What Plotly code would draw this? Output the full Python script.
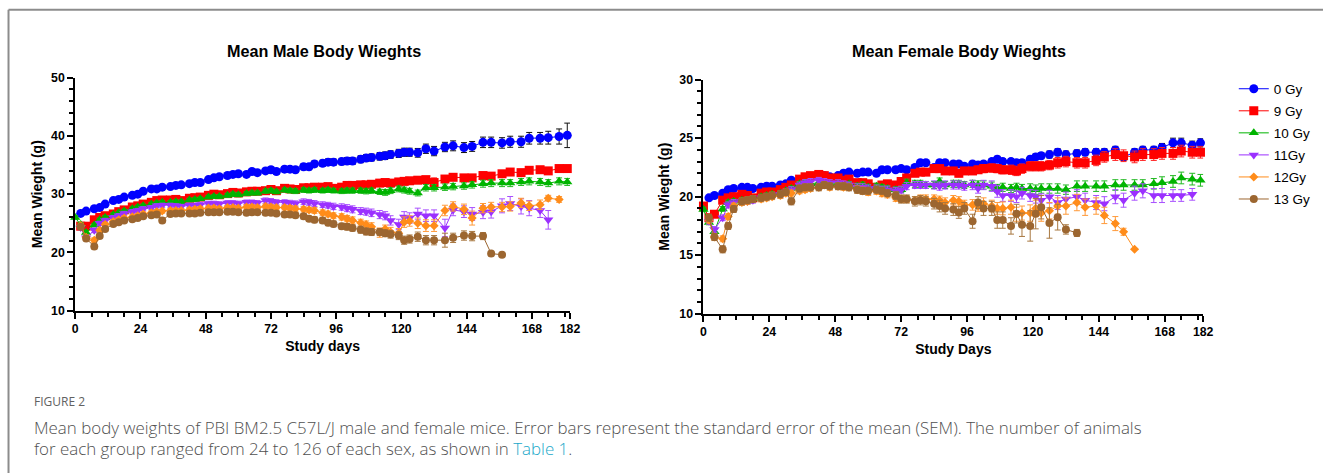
import plotly.graph_objects as go

# ---------------- data ----------------
DAYS = [0, 2, 4, 7, 9, 11, 14, 16, 18, 21,
        23, 25, 28, 30, 32, 35, 37, 39, 42, 44,
        46, 49, 51, 53, 56, 58, 60, 63, 65, 67,
        70, 72, 74, 77, 79, 81, 84, 86, 88, 91,
        93, 95, 98, 100, 102, 105, 107, 109, 112, 114,
        116, 119, 121, 123, 126, 129, 132, 136, 139, 143,
        146, 150, 153, 157, 160, 164, 167, 171, 174, 178,
        181]

GROUPS = ["0 Gy", "9 Gy", "10 Gy", "11Gy", "12Gy", "13 Gy"]
N = None

# ---- male means ----
M_0GY = [N, 26.7, 27.1, 27.5, 27.7, 28.3, 28.9, 29.1, 29.5, 29.8,
         30.0, 30.5, 30.9, 30.9, 31.2, 31.3, 31.5, 31.6, 31.8, 32.0,
         32.0, 32.5, 32.8, 33.0, 33.2, 33.4, 33.5, 33.4, 33.9, 33.7,
         34.0, 34.2, 33.9, 34.3, 34.3, 34.2, 34.7, 34.7, 35.2, 35.3,
         35.5, 35.5, 35.6, 35.7, 35.7, 36.0, 36.2, 36.3, 36.5, 36.6,
         36.8, 37.0, 37.2, 37.2, 37.1, 37.8, 37.4, 38.1, 38.3, 38.0,
         38.2, 38.9, 38.9, 38.8, 39.0, 39.0, 39.6, 39.6, 39.7, 39.9,
         40.1]
M_9GY = [N, 24.5, 24.5, 25.6, 26.0, 26.3, 26.6, 27.0, 27.3, 27.8,
         28.0, 28.3, 28.6, 28.9, 29.0, 29.0, 29.1, 28.9, 29.3, 29.4,
         29.5, 29.8, 30.0, 29.9, 30.1, 30.3, 30.2, 30.4, 30.5, 30.5,
         30.6, 30.8, 30.6, 31.0, 30.9, 30.8, 31.1, 31.1, 31.2, 31.2,
         31.3, 31.0, 31.2, 31.5, 31.5, 31.6, 31.6, 31.7, 31.9, 32.0,
         31.9, 32.1, 32.2, 32.3, 32.4, 32.5, 32.0, 32.6, 32.9, 32.8,
         32.8, 33.2, 33.1, 33.5, 33.8, 33.7, 34.1, 34.2, 34.0, 34.4,
         34.4]
M_10GY = [26.0, 24.8, 23.4, 24.7, 25.6, 26.0, 26.5, 26.8, 27.1, 27.5,
          27.8, 28.0, 28.3, 28.5, 28.6, 28.6, 28.7, 28.7, 29.0, 29.1,
          29.2, 29.5, 29.6, 29.6, 29.8, 30.0, 29.9, 30.1, 30.2, 30.2,
          30.5, 30.6, 30.4, 30.7, 30.6, 30.5, 30.7, 30.6, 30.7, 30.6,
          30.7, 30.6, 30.5, 30.6, 30.6, 30.6, 30.5, 30.6, 30.4, 30.3,
          30.6, 30.9, 30.7, 30.5, 30.2, 31.1, 31.1, 31.2, 31.3, 31.4,
          31.6, 31.8, 31.9, 31.9, 31.9, 32.1, 32.2, 32.1, 31.9, 32.2,
          32.1]
M_11GY = [N, 24.3, 22.5, 23.8, 25.0, 25.5, 26.0, 26.3, 26.7, 27.0,
          27.2, 27.5, 27.7, 28.0, 28.1, 28.1, 28.0, 27.9, 28.1, 28.1,
          28.2, 28.4, 28.4, 28.3, 28.5, 28.5, 28.4, 28.6, 28.6, 28.5,
          28.9, 28.8, 28.6, 28.6, 28.5, 28.4, 28.7, 28.6, 28.4, 28.2,
          28.1, 27.9, 27.8, 27.6, 27.4, 27.1, 27.0, 26.8, 26.5, 26.3,
          25.5, 24.8, 26.1, 25.9, 26.6, 26.3, 26.3, 24.2, 27.3, 27.0,
          26.6, 26.9, 27.0, 28.0, 28.4, 27.9, 27.6, 27.2, 25.6, N,
          N]
M_12GY = [N, 24.6, 22.6, 22.1, 23.8, 24.8, 25.3, 25.6, 25.9, 26.1,
          26.3, 26.6, 26.8, 27.0, 27.1, 27.2, 27.2, 27.2, 27.3, 27.4,
          27.5, 27.6, 27.6, 27.5, 27.7, 27.7, 27.6, 27.8, 27.8, 27.7,
          27.9, 27.8, 27.7, 27.7, 27.6, 27.5, 27.4, 27.3, 27.2, 26.8,
          26.6, 26.3, 26.1, 25.8, 25.5, 25.1, 24.8, 24.4, 23.4, 24.0,
          23.5, 23.3, 25.2, 25.4, 25.0, 24.6, 24.6, 27.2, 27.9, 27.4,
          25.9, 27.6, 27.8, 27.8, 27.9, 28.5, 28.0, 28.2, 29.3, 29.1,
          N]
M_13GY = [N, 24.4, 22.4, 21.0, 22.8, 24.0, 24.9, 25.2, 25.5, 25.7,
          25.9, 26.2, 26.4, 26.5, 25.5, 26.6, 26.7, 26.7, 26.7, 26.7,
          26.8, 26.9, 26.9, 26.9, 27.0, 27.0, 26.9, 26.8, 26.9, 26.9,
          26.8, 26.8, 26.7, 26.5, 26.5, 26.4, 26.2, 25.8, 25.6, 25.5,
          25.1, 24.9, 24.5, 24.4, 24.2, 23.9, 23.6, 23.5, 23.5, 23.3,
          23.1, 22.9, 22.1, 22.3, 22.7, 22.1, 22.1, 22.1, 22.5, 22.9,
          22.8, 22.8, 19.8, 19.6, N, N, N, N, N, N,
          N]

# ---- male SEM ----
M_0GY_SEM = [N, 0.3, 0.3, 0.3, 0.3, 0.3, 0.3, 0.3, 0.3, 0.3,
             0.3, 0.3, 0.3, 0.3, 0.3, 0.3, 0.3, 0.3, 0.3, 0.35,
             0.35, 0.35, 0.35, 0.35, 0.4, 0.4, 0.4, 0.4, 0.4, 0.4,
             0.4, 0.45, 0.45, 0.45, 0.45, 0.5, 0.5, 0.5, 0.5, 0.55,
             0.55, 0.55, 0.55, 0.6, 0.6, 0.6, 0.6, 0.6, 0.65, 0.65,
             0.65, 0.7, 0.7, 0.7, 0.75, 0.8, 0.8, 0.8, 0.85, 0.85,
             0.85, 0.9, 0.9, 0.9, 0.95, 0.95, 1.0, 1.0, 1.1, 1.3,
             2.1]
M_9GY_SEM = [N, 0.3, 0.3, 0.3, 0.3, 0.3, 0.3, 0.3, 0.3, 0.3,
             0.3, 0.3, 0.3, 0.3, 0.3, 0.3, 0.3, 0.3, 0.3, 0.3,
             0.3, 0.3, 0.3, 0.3, 0.3, 0.3, 0.3, 0.3, 0.3, 0.3,
             0.35, 0.35, 0.35, 0.35, 0.35, 0.35, 0.35, 0.35, 0.35, 0.35,
             0.35, 0.35, 0.4, 0.4, 0.4, 0.4, 0.4, 0.4, 0.4, 0.4,
             0.4, 0.45, 0.45, 0.45, 0.5, 0.5, 0.8, 0.5, 0.5, 0.5,
             0.5, 0.55, 0.55, 0.5, 0.5, 0.5, 0.5, 0.5, 0.5, 0.5,
             0.5]
M_10GY_SEM = [0.3, 0.3, 0.3, 0.3, 0.3, 0.3, 0.3, 0.3, 0.3, 0.3,
              0.3, 0.3, 0.3, 0.3, 0.3, 0.3, 0.3, 0.3, 0.3, 0.3,
              0.3, 0.3, 0.3, 0.3, 0.35, 0.35, 0.35, 0.35, 0.35, 0.35,
              0.35, 0.35, 0.35, 0.35, 0.4, 0.4, 0.4, 0.4, 0.4, 0.4,
              0.4, 0.4, 0.4, 0.45, 0.45, 0.45, 0.45, 0.45, 0.45, 0.5,
              0.5, 0.5, 0.5, 0.5, 0.5, 0.55, 0.55, 0.55, 0.55, 0.55,
              0.55, 0.6, 0.6, 0.6, 0.6, 0.6, 0.6, 0.6, 0.6, 0.6,
              0.6]
M_11GY_SEM = [N, 0.4, 0.4, 0.4, 0.35, 0.35, 0.35, 0.35, 0.35, 0.35,
              0.35, 0.35, 0.35, 0.35, 0.35, 0.35, 0.35, 0.35, 0.35, 0.35,
              0.4, 0.4, 0.4, 0.4, 0.4, 0.4, 0.4, 0.4, 0.4, 0.4,
              0.45, 0.45, 0.45, 0.45, 0.45, 0.45, 0.5, 0.5, 0.5, 0.5,
              0.5, 0.55, 0.55, 0.6, 0.6, 0.6, 0.6, 0.65, 0.7, 0.7,
              0.8, 0.9, 0.9, 0.9, 1.0, 1.0, 1.0, 1.5, 1.0, 1.0,
              1.1, 1.1, 1.1, 1.2, 1.2, 1.3, 1.3, 1.2, 1.6, N,
              N]
M_12GY_SEM = [N, 0.4, 0.4, 0.4, 0.35, 0.35, 0.35, 0.35, 0.35, 0.35,
              0.35, 0.35, 0.35, 0.35, 0.35, 0.35, 0.35, 0.35, 0.35, 0.35,
              0.35, 0.35, 0.35, 0.35, 0.35, 0.35, 0.35, 0.4, 0.4, 0.4,
              0.4, 0.4, 0.4, 0.4, 0.45, 0.45, 0.45, 0.45, 0.5, 0.5,
              0.5, 0.5, 0.55, 0.55, 0.6, 0.6, 0.6, 0.7, 0.8, 0.7,
              0.8, 0.8, 0.9, 0.9, 0.9, 1.0, 1.0, 0.9, 0.8, 0.9,
              1.2, 0.8, 0.8, 0.8, 0.8, 0.8, 0.8, 0.8, 0.5, 0.5,
              N]
M_13GY_SEM = [N, 0.4, 0.4, 0.4, 0.35, 0.35, 0.35, 0.35, 0.35, 0.35,
              0.35, 0.35, 0.35, 0.35, 0.4, 0.35, 0.35, 0.35, 0.35, 0.35,
              0.35, 0.35, 0.35, 0.35, 0.35, 0.35, 0.35, 0.35, 0.4, 0.4,
              0.4, 0.4, 0.4, 0.4, 0.4, 0.45, 0.45, 0.45, 0.5, 0.5,
              0.5, 0.5, 0.5, 0.55, 0.55, 0.6, 0.6, 0.6, 0.6, 0.6,
              0.65, 0.7, 0.7, 0.7, 0.8, 0.8, 0.8, 1.2, 0.8, 0.8,
              0.8, 0.6, 0.3, 0.3, N, N, N, N, N, N,
              N]

# ---- female means ----
F_0GY = [N, 19.9, 20.1, 20.3, 20.6, 20.7, 20.8, 20.8, 20.7, 20.8,
         20.9, 20.9, 21.0, 21.1, 21.4, 21.4, 21.6, 21.6, 21.7, 21.8,
         21.7, 21.8, 22.0, 22.1, 22.0, 22.1, 22.1, 22.0, 22.3, 22.3,
         22.3, 22.4, 22.3, 22.5, 22.9, 22.9, 22.5, 22.9, 22.9, 22.8,
         22.8, 22.6, 22.8, 22.7, 22.8, 23.0, 23.2, 23.0, 23.0, 22.9,
         22.9, 23.2, 23.4, 23.5, 23.6, 23.8, 23.6, 23.7, 23.8, 23.8,
         23.8, 24.0, 23.4, 23.8, 24.0, 24.0, 24.2, 24.6, 24.6, 24.4,
         24.6]
F_9GY = [19.2, 18.2, 18.5, 19.7, 19.9, 20.0, 20.2, 20.1, 19.9, 20.3,
         20.4, 20.4, 20.6, 20.8, 21.0, 21.5, 21.7, 21.8, 21.9, 21.8,
         21.6, 21.6, 21.4, 21.5, 21.2, 21.2, 21.1, 20.8, 21.0, 21.1,
         21.0, 21.3, 21.6, 22.0, 22.1, 22.1, 22.4, 22.4, 22.2, 22.2,
         22.0, 22.2, 22.2, 22.3, 22.4, 22.45, 22.4, 22.3, 22.3, 22.2,
         22.4, 22.6, 22.6, 22.6, 22.7, 22.9, 23.0, 22.9, 22.9, 23.1,
         23.4, 23.6, 23.5, 23.4, 23.6, 23.6, 23.7, 23.7, 23.9, 23.8,
         23.8]
F_10GY = [18.9, 17.8, 17.0, 18.95, 19.5, 19.6, 19.7, 19.6, 19.8, 20.0,
          20.1, 20.2, 20.3, 20.5, 20.7, 21.1, 21.2, 21.1, 21.2, 21.1,
          21.1, 21.1, 21.0, 21.1, 20.9, 21.0, 20.8, 20.9, 20.8, 20.7,
          20.6, 20.6, 21.2, 21.1, 21.1, 21.0, 21.0, 21.3, 21.0, 21.1,
          21.1, 21.0, 21.1, 21.0, 21.0, 20.9, 20.7, 20.8, 20.7, 20.8,
          20.7, 20.7, 20.6, 20.7, 20.7, 20.7, 20.6, 20.9, 20.9, 20.9,
          20.9, 21.0, 21.0, 21.0, 21.0, 21.1, 21.2, 21.3, 21.6, 21.5,
          21.4]
F_11GY = [N, 17.9, 17.2, 18.2, 19.3, 19.5, 19.6, 19.6, 19.7, 19.9,
          20.0, 20.1, 20.2, 20.4, 20.6, 21.0, 21.2, 21.3, 21.4, 21.3,
          21.2, 21.2, 21.1, 21.0, 20.8, 20.8, 20.7, 20.7, 20.6, 20.6,
          20.5, 20.6, 20.9, 21.0, 21.0, 21.0, 21.0, 20.9, 21.0, 21.0,
          21.0, 20.9, 21.0, 20.7, 21.0, 20.9, 20.45, 20.1, 20.1, 20.0,
          20.3, 20.1, 20.0, 19.7, 20.0, 19.5, 19.8, 20.0, 19.7, 19.5,
          19.4, 20.0, 19.7, 20.3, 20.5, 20.1, 20.1, 20.1, 20.1, 20.2,
          N]
F_12GY = [N, 18.0, 16.55, 16.4, 18.3, 19.2, 19.5, 19.6, 19.8, 19.8,
          19.9, 20.0, 20.1, 20.3, 20.3, 20.5, 20.6, 20.7, 20.8, 21.0,
          20.8, 20.9, 20.8, 20.8, 20.6, 20.5, 20.4, 20.5, 20.3, 20.2,
          19.9, 19.8, 19.8, 19.7, 19.8, 19.8, 19.8, 19.7, 19.5, 19.7,
          19.6, 19.3, 19.3, 19.2, 19.4, 19.2, 19.0, 19.0, 19.1, 18.5,
          18.6, 18.6, 19.0, 18.6, 18.8, 19.2, 19.2, 19.5, 19.1, 19.2,
          18.4, 17.7, 17.0, 15.5, N, N, N, N, N, N,
          N]
F_13GY = [N, 18.2, 16.55, 15.5, 17.5, 18.95, 19.6, 19.7, 19.8, 19.9,
          20.0, 20.1, 20.2, 20.4, 19.6, 20.7, 20.8, 20.8, 20.8, 21.0,
          20.9, 20.9, 20.9, 20.8, 20.6, 20.5, 20.5, 20.6, 20.5, 20.3,
          20.1, 19.8, 19.8, 19.6, 19.7, 19.6, 19.4, 19.2, 19.0, 18.9,
          18.65, 19.0, 17.9, 19.5, 19.0, 19.0, 18.0, 18.0, 17.5, 18.55,
          17.6, 17.5, 18.55, 19.1, 17.75, 18.25, 17.2, 16.9, N, N,
          N, N, N, N, N, N, N, N, N, N,
          N]

# ---- female SEM ----
F_0GY_SEM = [N, 0.15, 0.15, 0.15, 0.15, 0.15, 0.15, 0.15, 0.15, 0.15,
             0.15, 0.15, 0.15, 0.15, 0.15, 0.15, 0.15, 0.15, 0.15, 0.15,
             0.15, 0.15, 0.15, 0.15, 0.15, 0.15, 0.15, 0.15, 0.15, 0.15,
             0.2, 0.2, 0.2, 0.2, 0.2, 0.2, 0.2, 0.2, 0.2, 0.2,
             0.2, 0.2, 0.2, 0.2, 0.2, 0.25, 0.25, 0.25, 0.25, 0.25,
             0.25, 0.25, 0.25, 0.25, 0.3, 0.3, 0.3, 0.3, 0.3, 0.3,
             0.3, 0.3, 0.3, 0.3, 0.3, 0.3, 0.35, 0.4, 0.4, 0.35,
             0.35]
F_9GY_SEM = [0.2, 0.2, 0.2, 0.2, 0.2, 0.2, 0.2, 0.2, 0.2, 0.2,
             0.2, 0.2, 0.2, 0.2, 0.2, 0.2, 0.2, 0.2, 0.2, 0.2,
             0.2, 0.2, 0.2, 0.2, 0.2, 0.2, 0.2, 0.2, 0.2, 0.2,
             0.25, 0.25, 0.25, 0.25, 0.25, 0.25, 0.3, 0.3, 0.3, 0.3,
             0.3, 0.3, 0.3, 0.3, 0.35, 0.35, 0.35, 0.35, 0.4, 0.4,
             0.4, 0.4, 0.4, 0.4, 0.4, 0.45, 0.45, 0.45, 0.45, 0.45,
             0.45, 0.5, 0.5, 0.5, 0.5, 0.5, 0.5, 0.5, 0.5, 0.5,
             0.5]
F_10GY_SEM = [0.2, 0.2, 0.2, 0.2, 0.2, 0.2, 0.2, 0.2, 0.2, 0.2,
              0.2, 0.2, 0.2, 0.2, 0.2, 0.2, 0.2, 0.2, 0.2, 0.2,
              0.2, 0.2, 0.2, 0.2, 0.25, 0.25, 0.25, 0.25, 0.25, 0.25,
              0.25, 0.25, 0.3, 0.3, 0.3, 0.3, 0.3, 0.3, 0.3, 0.3,
              0.3, 0.3, 0.3, 0.35, 0.35, 0.35, 0.35, 0.35, 0.35, 0.35,
              0.35, 0.4, 0.4, 0.4, 0.4, 0.4, 0.4, 0.45, 0.45, 0.45,
              0.45, 0.45, 0.45, 0.45, 0.45, 0.45, 0.5, 0.5, 0.5, 0.5,
              0.5]
F_11GY_SEM = [N, 0.25, 0.25, 0.25, 0.25, 0.25, 0.25, 0.25, 0.25, 0.25,
              0.25, 0.25, 0.25, 0.25, 0.25, 0.25, 0.25, 0.25, 0.25, 0.25,
              0.25, 0.25, 0.25, 0.25, 0.3, 0.3, 0.3, 0.3, 0.3, 0.3,
              0.3, 0.3, 0.3, 0.3, 0.3, 0.3, 0.35, 0.35, 0.35, 0.35,
              0.35, 0.35, 0.4, 0.4, 0.4, 0.45, 0.5, 0.5, 0.5, 0.5,
              0.5, 0.5, 0.55, 0.55, 0.55, 0.6, 0.6, 0.6, 0.6, 0.6,
              0.6, 0.6, 0.6, 0.6, 0.6, 0.6, 0.6, 0.5, 0.5, 0.5,
              N]
F_12GY_SEM = [N, 0.25, 0.25, 0.25, 0.25, 0.25, 0.25, 0.25, 0.25, 0.25,
              0.25, 0.25, 0.25, 0.25, 0.25, 0.25, 0.25, 0.25, 0.25, 0.25,
              0.25, 0.25, 0.25, 0.25, 0.3, 0.3, 0.3, 0.3, 0.3, 0.3,
              0.3, 0.3, 0.3, 0.3, 0.35, 0.35, 0.35, 0.35, 0.4, 0.4,
              0.4, 0.4, 0.45, 0.45, 0.5, 0.5, 0.5, 0.55, 0.6, 0.6,
              0.6, 0.7, 0.7, 0.7, 0.7, 0.7, 0.7, 0.7, 0.7, 0.7,
              0.7, 0.6, 0.3, N, N, N, N, N, N, N,
              N]
F_13GY_SEM = [N, 0.3, 0.3, 0.3, 0.3, 0.3, 0.3, 0.3, 0.3, 0.3,
              0.3, 0.3, 0.3, 0.3, 0.3, 0.3, 0.3, 0.3, 0.3, 0.3,
              0.3, 0.3, 0.3, 0.3, 0.3, 0.3, 0.3, 0.3, 0.3, 0.3,
              0.35, 0.35, 0.35, 0.4, 0.4, 0.4, 0.45, 0.5, 0.5, 0.5,
              0.5, 0.5, 0.6, 0.5, 0.6, 0.6, 0.7, 0.7, 0.7, 0.8,
              1.0, 1.3, 1.3, 1.0, 1.3, 1.1, 0.4, 0.3, N, N,
              N, N, N, N, N, N, N, N, N, N,
              N]

MALE = [(M_0GY, M_0GY_SEM), (M_9GY, M_9GY_SEM), (M_10GY, M_10GY_SEM),
        (M_11GY, M_11GY_SEM), (M_12GY, M_12GY_SEM), (M_13GY, M_13GY_SEM)]
FEMALE = [(F_0GY, F_0GY_SEM), (F_9GY, F_9GY_SEM), (F_10GY, F_10GY_SEM),
          (F_11GY, F_11GY_SEM), (F_12GY, F_12GY_SEM), (F_13GY, F_13GY_SEM)]

X_TICKS = [0, 24, 48, 72, 96, 120, 144, 168, 182]

# ---------------- styles ----------------
COLORS = ["#0000FF", "#FF0000", "#00B400", "#9B30FF", "#FF8C1A", "#9C6630"]
ERR_COLORS = ["#111111", "#FF2020", "#20B820", "#A850FF", "#FF9A3A", "#A87840"]
SYMBOLS = ["circle", "square", "triangle-up", "triangle-down", "diamond", "circle"]
SIZES = [9, 9, 9, 9, 7, 8]

FONT = "Liberation Sans, Arial, sans-serif"
W, H = 1323, 473


# screen-pixel targets -> paper fractions (compensates for the capture scaling)
def fx(px):
    return ((px - 3.0) / 0.9867) / W


def fy(py):
    return 1 - ((py - 7.3) / 0.9705) / H


fig = go.Figure()
for panel, (data, xa, ya) in enumerate([(MALE, "x", "y"), (FEMALE, "x2", "y2")]):
    for i, (vals, sem) in enumerate(data):
        fig.add_trace(go.Scatter(
            x=DAYS, y=vals, xaxis=xa, yaxis=ya,
            mode="lines+markers", name=GROUPS[i],
            legendgroup=GROUPS[i], showlegend=(panel == 1),
            line=dict(color=COLORS[i], width=1),
            marker=dict(symbol=SYMBOLS[i], size=SIZES[i], color=COLORS[i],
                        line=dict(width=0)),
            error_y=dict(type="data", array=sem, visible=True,
                         color=ERR_COLORS[i], thickness=1, width=3),
            cliponaxis=False,
        ))

axis_common = dict(
    showline=True, linecolor="black", linewidth=2, mirror=False,
    ticks="outside", ticklen=6, tickwidth=2, tickcolor="black",
    showgrid=False, zeroline=False,
    tickfont=dict(family=FONT, size=12.3, color="black", weight="bold"),
)
title_font = dict(family=FONT, size=14, color="black", weight="bold")

fig.update_layout(
    width=W, height=H, autosize=False,
    margin=dict(l=0, r=0, t=0, b=0),
    paper_bgcolor="white", plot_bgcolor="white",
    showlegend=True,
    legend=dict(x=1243 / W, y=1 - 68.5 / H, xanchor="left", yanchor="top",
                font=dict(family=FONT, size=13.5, color="black"),
                tracegroupgap=1.5, bgcolor="rgba(0,0,0,0)", itemwidth=30),
    xaxis=dict(domain=[fx(75), fx(568)], range=[0, 182], tickmode="array",
               tickvals=X_TICKS, anchor="y",
               minor=dict(tickmode="linear", tick0=0, dtick=6, ticks="outside",
                          ticklen=4, tickwidth=1.5, tickcolor="black"),
               title=dict(text="Study days", standoff=6, font=title_font),
               **axis_common),
    yaxis=dict(domain=[fy(311), fy(78)], range=[10, 50], tickmode="linear",
               tick0=10, dtick=10, anchor="x",
               minor=dict(tickmode="linear", tick0=10, dtick=2, ticks="outside",
                          ticklen=4, tickwidth=1.5, tickcolor="black"),
               title=dict(text="Mean Wieght (g)", standoff=5, font=title_font),
               **axis_common),
    xaxis2=dict(domain=[fx(701), fx(1199)], range=[0, 182], tickmode="array",
                tickvals=X_TICKS, anchor="y2",
                minor=dict(tickmode="linear", tick0=0, dtick=6, ticks="outside",
                           ticklen=4, tickwidth=1.5, tickcolor="black"),
                title=dict(text="Study Days", standoff=6, font=title_font),
                **axis_common),
    yaxis2=dict(domain=[fy(314), fy(80)], range=[10, 30], tickmode="linear",
                tick0=10, dtick=5, anchor="x2",
                minor=dict(tickmode="linear", tick0=10, dtick=1, ticks="outside",
                           ticklen=4, tickwidth=1.5, tickcolor="black"),
                title=dict(text="Mean Wieght (g)", standoff=6, font=title_font),
                **axis_common),
)

# panel titles
for txt, xc in [("Mean Male Body Wieghts", 323), ("Mean Female Body Wieghts", 956)]:
    fig.add_annotation(text=txt, x=fx(xc), y=fy(51.5),
                       xref="paper", yref="paper", showarrow=False,
                       xanchor="center", yanchor="middle",
                       font=dict(family=FONT, size=16.2, color="black", weight="bold"))

# caption
CAP_FONT = "Open Sans, Lato, sans-serif"
fig.add_annotation(text="FIGURE 2", x=fx(32), y=fy(402),
                   xref="paper", yref="paper", showarrow=False,
                   xanchor="left", yanchor="middle",
                   font=dict(family=CAP_FONT, size=12, color="#616161", weight=400))
fig.add_annotation(
    text="Mean body weights of PBI BM2.5 C57L/J male and female mice. Error bars represent "
         "the standard error of the mean (SEM). The number of animals",
    x=fx(32), y=fy(428), xref="paper", yref="paper", showarrow=False,
    xanchor="left", yanchor="middle",
    font=dict(family=CAP_FONT, size=16.9, color="#505050", weight=300))
fig.add_annotation(
    text="for each group ranged from 24 to 126 of each sex, as shown in "
         "<span style='color:#1ba8c9'>Table 1</span>.",
    x=fx(32), y=fy(449), xref="paper", yref="paper", showarrow=False,
    xanchor="left", yanchor="middle",
    font=dict(family=CAP_FONT, size=16.9, color="#505050", weight=300))

# frame lines
fig.add_shape(type="line", xref="paper", yref="paper",
              x0=fx(8.5), x1=1.02, y0=fy(10), y1=fy(10),
              line=dict(color="#8c8c8c", width=2))
fig.add_shape(type="line", xref="paper", yref="paper",
              x0=fx(8.5), x1=fx(8.5), y0=-0.05, y1=fy(10),
              line=dict(color="#8c8c8c", width=2))

fig.write_html("out.html",
               config={"displayModeBar": False},
               post_script="document.body.style.margin='0';"
                           "document.body.style.overflow='hidden';")
